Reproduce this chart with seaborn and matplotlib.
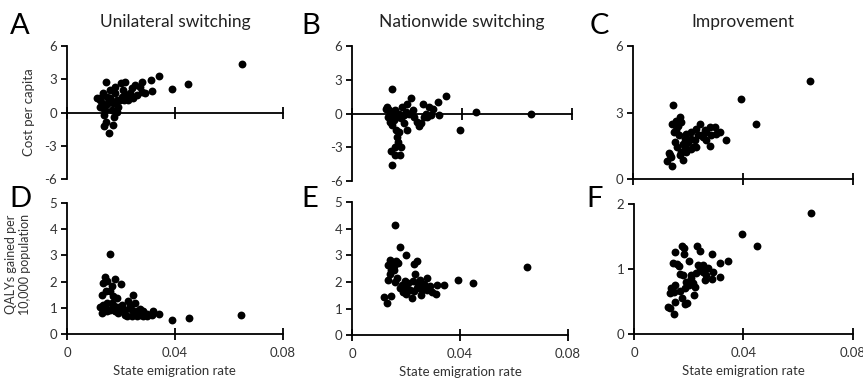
import matplotlib
matplotlib.use("Agg")
import matplotlib.pyplot as plt
import pandas as pd
import seaborn as sns

# ---- panel data (state emigration rate vs outcome) ----
a_x = [0.0143, 0.0121, 0.0129, 0.0123, 0.0135, 0.0148, 0.0142, 0.0150, 0.0160, 0.0138,
       0.0145, 0.0138, 0.0154, 0.0172, 0.0175, 0.0178, 0.0172, 0.0185, 0.0190, 0.0200,
       0.0215, 0.0209, 0.0222, 0.0228, 0.0234, 0.0246, 0.0252, 0.0270, 0.0280, 0.0277,
       0.0290, 0.0310, 0.0314, 0.0341, 0.0390, 0.0450, 0.0649, 0.0166, 0.0185, 0.0123,
       0.0203, 0.0240, 0.0212, 0.0160, 0.0133, 0.0178, 0.0113, 0.0197, 0.0258]
a_y = [2.76, 1.35, 0.90, 0.54, 1.74, 1.44, 0.24, 0.78, 1.29, -0.21,
       -0.81, -1.20, -1.80, -1.11, -0.36, 1.74, 0.84, 1.14, 0.54, 2.64,
       2.79, 2.04, 1.59, 1.14, 1.74, 1.29, 2.49, 2.28, 2.79, 1.89,
       1.74, 2.94, 1.98, 3.27, 2.10, 2.61, 4.38, 0.24, 0.09, 1.14,
       1.44, 2.19, 1.14, 2.04, 0.39, 2.34, 1.29, 1.14, 1.59]

b_x = [0.0144, 0.0128, 0.0134, 0.0130, 0.0138, 0.0144, 0.0152, 0.0159, 0.0162, 0.0167,
       0.0157, 0.0140, 0.0155, 0.0174, 0.0177, 0.0146, 0.0171, 0.0177, 0.0183, 0.0189,
       0.0199, 0.0201, 0.0213, 0.0220, 0.0226, 0.0235, 0.0244, 0.0250, 0.0256, 0.0268,
       0.0274, 0.0280, 0.0287, 0.0311, 0.0317, 0.0341, 0.0394, 0.0452, 0.0650, 0.0195,
       0.0165, 0.0140, 0.0187, 0.0293, 0.0262, 0.0155, 0.0122, 0.0171, 0.0207]
b_y = [2.18, 0.59, 0.29, -0.29, -0.74, -1.03, -0.59, -1.47, -2.06, -2.50,
       -2.94, -3.29, -3.68, -3.68, -2.94, -4.59, 0.00, -0.44, 0.59, -0.15,
       -1.47, 0.88, 1.41, 0.29, -0.29, -0.74, -1.12, -0.88, 0.82, 0.00,
       -0.29, 0.59, -0.15, 1.03, -0.15, 1.56, -1.47, 0.15, 0.00, 0.15,
       -0.29, -0.15, -0.88, 0.44, -0.29, 0.29, 0.44, -1.62, 0.00]

c_x = [0.0644, 0.0392, 0.0448, 0.0147, 0.0170, 0.0158, 0.0143, 0.0176, 0.0158, 0.0167,
       0.0152, 0.0182, 0.0194, 0.0212, 0.0224, 0.0230, 0.0242, 0.0248, 0.0261, 0.0267,
       0.0279, 0.0285, 0.0279, 0.0303, 0.0315, 0.0339, 0.0131, 0.0139, 0.0124, 0.0143,
       0.0170, 0.0182, 0.0188, 0.0194, 0.0212, 0.0218, 0.0176, 0.0236, 0.0200, 0.0255,
       0.0133, 0.0164, 0.0297, 0.0212, 0.0188, 0.0149, 0.0267, 0.0160, 0.0230]
c_y = [4.41, 3.60, 2.50, 3.33, 2.79, 2.64, 2.47, 2.57, 2.20, 1.98,
       1.68, 1.60, 2.05, 1.83, 1.75, 2.27, 2.47, 1.98, 2.20, 1.75,
       2.35, 1.98, 1.49, 2.05, 2.12, 1.78, 1.19, 1.01, 0.83, 0.59,
       1.08, 0.86, 1.46, 1.23, 1.34, 1.46, 1.23, 1.98, 1.68, 1.90,
       1.08, 2.38, 2.35, 2.12, 1.83, 2.12, 2.12, 1.46, 1.46]

d_x = [0.0158, 0.0142, 0.0178, 0.0133, 0.0150, 0.0166, 0.0199, 0.0129, 0.0145, 0.0160,
       0.0172, 0.0150, 0.0172, 0.0123, 0.0135, 0.0160, 0.0185, 0.0203, 0.0215, 0.0228,
       0.0244, 0.0252, 0.0240, 0.0258, 0.0270, 0.0283, 0.0295, 0.0314, 0.0342, 0.0391,
       0.0452, 0.0647, 0.0222, 0.0258, 0.0283, 0.0129, 0.0148, 0.0191, 0.0178, 0.0197,
       0.0270, 0.0240, 0.0295, 0.0215, 0.0166, 0.0142, 0.0234, 0.0320, 0.0185]
d_y = [3.07, 2.16, 2.10, 1.95, 2.01, 1.82, 1.91, 1.50, 1.65, 1.63,
       1.44, 1.18, 1.12, 1.02, 1.12, 0.93, 1.02, 1.12, 0.93, 1.25,
       1.50, 1.18, 0.93, 0.87, 0.97, 0.87, 0.76, 0.74, 0.76, 0.55,
       0.61, 0.71, 0.67, 0.67, 0.67, 0.80, 0.89, 0.80, 0.89, 0.93,
       0.74, 0.67, 0.67, 0.74, 1.18, 0.99, 1.06, 0.87, 1.37]

e_x = [0.0158, 0.0176, 0.0198, 0.0142, 0.0132, 0.0148, 0.0164, 0.0172, 0.0154, 0.0144,
       0.0240, 0.0230, 0.0234, 0.0132, 0.0166, 0.0160, 0.0197, 0.0209, 0.0225, 0.0252,
       0.0279, 0.0265, 0.0289, 0.0314, 0.0341, 0.0394, 0.0450, 0.0647, 0.0178, 0.0188,
       0.0200, 0.0215, 0.0222, 0.0240, 0.0255, 0.0277, 0.0295, 0.0311, 0.0119, 0.0145,
       0.0129, 0.0185, 0.0228, 0.0258, 0.0206, 0.0154, 0.0139, 0.0246, 0.0191]
e_y = [4.13, 3.30, 3.00, 2.84, 2.65, 2.75, 2.78, 2.71, 2.59, 2.46,
       2.78, 2.68, 2.30, 2.09, 2.15, 2.00, 2.03, 1.96, 2.03, 2.09,
       2.15, 1.93, 1.84, 1.88, 1.90, 2.09, 1.95, 2.55, 1.78, 1.63,
       1.53, 1.71, 1.40, 1.78, 1.50, 1.71, 1.63, 1.55, 1.43, 1.49,
       1.21, 1.90, 1.65, 1.68, 1.68, 2.46, 2.28, 1.90, 1.78]

f_x = [0.0646, 0.0394, 0.0451, 0.0174, 0.0182, 0.0149, 0.0231, 0.0243, 0.0182, 0.0141,
       0.0156, 0.0165, 0.0202, 0.0234, 0.0284, 0.0314, 0.0344, 0.0168, 0.0180, 0.0207,
       0.0226, 0.0243, 0.0253, 0.0272, 0.0287, 0.0259, 0.0284, 0.0314, 0.0149, 0.0137,
       0.0131, 0.0190, 0.0186, 0.0217, 0.0223, 0.0220, 0.0174, 0.0186, 0.0192, 0.0149,
       0.0125, 0.0133, 0.0147, 0.0202, 0.0168, 0.0146, 0.0210, 0.0263, 0.0251]
f_y = [1.87, 1.54, 1.36, 1.36, 1.33, 1.26, 1.36, 1.28, 1.23, 1.10,
       1.08, 1.04, 1.13, 1.06, 1.23, 1.09, 1.13, 0.92, 0.91, 0.91,
       0.94, 0.99, 0.95, 1.02, 0.96, 0.83, 0.85, 0.87, 0.76, 0.71,
       0.63, 0.80, 0.71, 0.78, 0.72, 0.60, 0.55, 0.46, 0.48, 0.49,
       0.42, 0.40, 0.31, 0.76, 0.66, 0.65, 0.86, 0.91, 1.06]

titles = ["Unilateral switching", "Nationwide switching", "Improvement"]
letters = ["A", "B", "C", "D", "E", "F"]
x_ticks = [0, 0.04, 0.08]
x_ticklabels = ["0", "0.04", "0.08"]

sns.set_style("ticks")
plt.rcParams["font.family"] = ["Lato", "DejaVu Sans"]
plt.rcParams["axes.unicode_minus"] = False

fig = plt.figure(figsize=(8.63, 3.81), dpi=100)

# axes boxes in figure fractions: left, bottom, width, height
boxes = [
    [0.0776, 0.530, 0.250, 0.349],
    [0.408, 0.525, 0.255, 0.354],
    [0.7335, 0.530, 0.255, 0.349],
    [0.0776, 0.1234, 0.250, 0.344],
    [0.408, 0.120, 0.250, 0.350],
    [0.7346, 0.1234, 0.2538, 0.341],
]
panels = [
    (a_x, a_y, (-6, 6), [-6, -3, 0, 3, 6]),
    (b_x, b_y, (-6, 6), [-6, -3, 0, 3, 6]),
    (c_x, c_y, (0, 6), [0, 3, 6]),
    (d_x, d_y, (0, 5), [0, 1, 2, 3, 4, 5]),
    (e_x, e_y, (0, 5), [0, 1, 2, 3, 4, 5]),
    (f_x, f_y, (0, 2), [0, 1, 2]),
]
letter_pos = [(0.011, 0.932), (0.349, 0.932), (0.683, 0.932),
              (0.011, 0.478), (0.349, 0.478), (0.680, 0.478)]

for i, (xs, ys, ylim, yticks) in enumerate(panels):
    ax = fig.add_axes(boxes[i])
    df = pd.DataFrame({"rate": xs, "val": ys})
    sns.scatterplot(data=df, x="rate", y="val", ax=ax, color="black",
                    s=32, linewidth=0, clip_on=False, zorder=3)
    ax.set_xlim(0, 0.08)
    ax.set_ylim(*ylim)
    ax.set_xticks(x_ticks)
    ax.set_yticks(yticks)
    ax.set_yticklabels([str(t) for t in yticks])
    for s in ["top", "right"]:
        ax.spines[s].set_visible(False)
    for s in ["left", "bottom"]:
        ax.spines[s].set_linewidth(1.3)
        ax.spines[s].set_color("black")
    if ylim[0] < 0:
        ax.spines["bottom"].set_position(("data", 0))
    ax.tick_params(axis="x", direction="inout", length=9, width=1.3,
                   labelsize=9.5, colors="black", labelcolor="#333333", pad=5)
    ax.tick_params(axis="y", direction="out", length=4, width=1.3,
                   labelsize=9.5, colors="black", labelcolor="#333333", pad=3)
    ax.set_xlabel("")
    ax.set_ylabel("")
    if i < 3:
        ax.set_xticklabels([])
        ax.set_title(titles[i], fontsize=12.5, color="#222222", pad=14)
    else:
        ax.set_xticklabels(x_ticklabels)
        ax.set_xlabel("State emigration rate", fontsize=9.5, color="#333333", labelpad=4)
    fig.text(letter_pos[i][0], letter_pos[i][1], letters[i], fontsize=21,
             ha="left", va="center", color="black")

fig.axes[0].set_ylabel("Cost per capita", fontsize=9.5, color="#333333", labelpad=7)
fig.axes[3].set_ylabel("QALYs gained per\n10,000 population", fontsize=9,
                       color="#333333", labelpad=5, linespacing=1.25)
fig.axes[3].yaxis.set_label_coords(-0.165, 0.53)

fig.savefig("out.png", dpi=100)
